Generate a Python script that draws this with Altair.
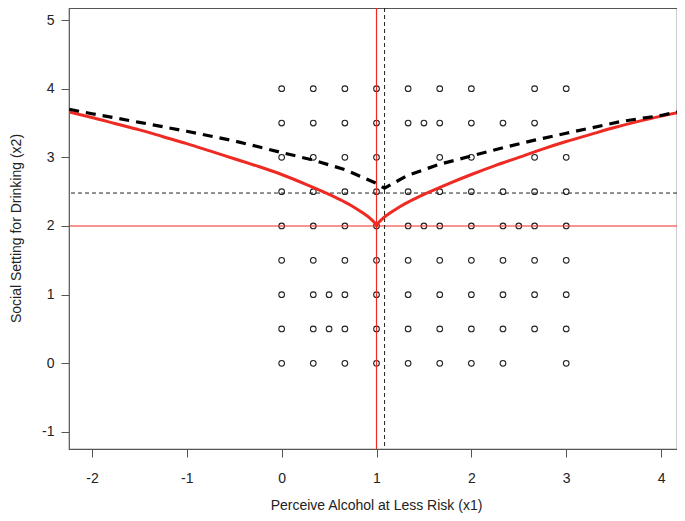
import altair as alt
import pandas as pd

# ---- data ----
# observed points: one list of x positions per y level
pt_y_levels = [4.0, 3.5, 3.0, 2.5, 2.0, 1.5, 1.0, 0.5, 0.0]
pt_x_rows = [
    [0, 1/3, 2/3, 1, 4/3, 5/3, 2, 8/3, 3],
    [0, 1/3, 2/3, 1, 4/3, 1.5, 5/3, 2, 7/3, 8/3],
    [0, 1/3, 2/3, 1, 5/3, 2, 8/3, 3],
    [0, 1/3, 2/3, 1, 4/3, 5/3, 2, 7/3, 8/3, 3],
    [0, 1/3, 2/3, 1, 4/3, 1.5, 5/3, 2, 7/3, 2.5, 8/3, 3],
    [0, 1/3, 2/3, 1, 4/3, 5/3, 2, 7/3, 8/3, 3],
    [0, 1/3, 0.5, 2/3, 1, 4/3, 5/3, 2, 7/3, 8/3, 3],
    [0, 1/3, 0.5, 2/3, 1, 4/3, 5/3, 2, 7/3, 8/3, 3],
    [0, 1/3, 2/3, 1, 4/3, 5/3, 2, 7/3, 3],
]

# solid red curve
red_x = [-2.24, -2, -1.75, -1.5, -1.25, -1, -0.75, -0.5, -0.25, 0, 0.25, 0.5,
         0.65, 0.75, 0.85, 0.93, 0.97, 0.99, 1.0, 1.01, 1.03, 1.07, 1.15,
         1.25, 1.35, 1.5, 1.75, 2, 2.25, 2.5, 2.75, 3, 3.25, 3.5, 3.75, 4, 4.24]
red_y = [3.66, 3.58, 3.49, 3.40, 3.30, 3.20, 3.09, 2.98, 2.87, 2.75, 2.61, 2.46,
         2.36, 2.285, 2.195, 2.115, 2.063, 2.029, 2.00, 2.029, 2.063, 2.115, 2.195,
         2.285, 2.36, 2.46, 2.61, 2.75, 2.88, 3.00, 3.12, 3.23, 3.33, 3.43, 3.52, 3.60, 3.67]

# thick dashed black curve
dash_x = [-2.24, -2, -1.5, -1, -0.5, 0, 0.333, 0.667, 0.9, 1.0, 1.085,
          1.2, 1.333, 1.667, 2, 2.333, 2.667, 3, 3.568, 4, 4.24]
dash_y = [3.70, 3.635, 3.51, 3.38, 3.24, 3.07, 2.96, 2.82, 2.68, 2.62, 2.55,
          2.64, 2.74, 2.90, 3.02, 3.14, 3.25, 3.35, 3.52, 3.61, 3.68]

red_vline_x = [1.0]
red_hline_y = [2.0]
dash_vline_x = [1.085]
dash_hline_y = [2.48]

x_ticks = [-2, -1, 0, 1, 2, 3, 4]
y_ticks = [-1, 0, 1, 2, 3, 4, 5]

# ---- tables ----
pts = pd.DataFrame(
    [{"x": xv, "y": yv} for yv, row in zip(pt_y_levels, pt_x_rows) for xv in row]
)
red_df = pd.DataFrame({"x": red_x, "y": red_y})
dash_df = pd.DataFrame({"x": dash_x, "y": dash_y})

RED = "#ee2a22"
FONT = "Liberation Sans"

xs = alt.Scale(domain=[-2.242, 4.168], nice=False, zero=False)
ys = alt.Scale(domain=[-1.248, 5.175], nice=False, zero=False)

x_axis = alt.Axis(values=x_ticks, title="Perceive Alcohol at Less Risk (x1)",
                  labelPadding=14, labelBaseline="top", labelFlush=False,
                  titleY=60, titleX=307, titleBaseline="alphabetic",
                  titleAlign="center", labelExpr="toString(datum.value)")
y_axis = alt.Axis(values=y_ticks, title="Social Setting for Drinking (x2)",
                  labelPadding=7, labelFlush=False, titleX=-60, titleY=220,
                  titleBaseline="top", titleAlign="center", titleAngle=-90,
                  labelExpr="toString(datum.value)")

X = alt.X("x:Q", scale=xs, axis=x_axis)
Y = alt.Y("y:Q", scale=ys, axis=y_axis)

points = alt.Chart(pts).mark_point(
    shape="circle", filled=False, size=32, strokeWidth=1.1, color="#222222",
    opacity=1
).encode(x=X, y=Y)

vr = alt.Chart(pd.DataFrame({"x": red_vline_x})).mark_rule(
    color=RED, strokeWidth=1.2).encode(x=X)
hr = alt.Chart(pd.DataFrame({"y": red_hline_y})).mark_rule(
    color=RED, strokeWidth=1.2).encode(y=Y)
vd = alt.Chart(pd.DataFrame({"x": dash_vline_x})).mark_rule(
    color="#222222", strokeWidth=1, strokeDash=[4, 3]).encode(x=X)
hd = alt.Chart(pd.DataFrame({"y": dash_hline_y})).mark_rule(
    color="#222222", strokeWidth=1, strokeDash=[4, 3]).encode(y=Y)

red_line = alt.Chart(red_df).mark_line(
    color=RED, strokeWidth=3, clip=True, interpolate="monotone"
).encode(x=X, y=Y, order="x:Q")
dash_line = alt.Chart(dash_df).mark_line(
    color="#000000", strokeWidth=3.2, strokeDash=[10, 7], clip=True
).encode(x=X, y=Y, order="x:Q")

chart = alt.layer(points, vr, hr, vd, hd, red_line, dash_line).properties(
    width=608, height=441,
    autosize=alt.AutoSizeParams(type="none"),
    padding={"left": 61, "top": 0, "right": 0, "bottom": 64},
).configure_view(
    stroke="#555555", strokeWidth=1.2
).configure_axis(
    domain=False, grid=False, tickColor="#555555", tickSize=8, tickWidth=1,
    labelFont=FONT, labelFontSize=14, labelColor="#222222",
    titleFont=FONT, titleFontSize=14, titleFontWeight="normal",
    titleColor="#222222", labelOverlap=False,
)

chart.save("out.html", embed_options={"renderer": "svg", "actions": False})
